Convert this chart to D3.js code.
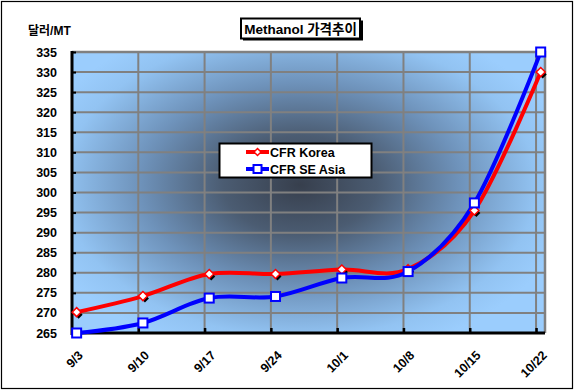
<!DOCTYPE html>
<html><head><meta charset="utf-8">
<script src="https://cdn.jsdelivr.net/npm/d3@7"></script>
<style>
html,body{margin:0;padding:0;background:#fff;}
svg{display:block;}
text{font-family:"Liberation Sans",Arial,sans-serif;font-weight:bold;fill:#000;}
</style></head>
<body>
<svg id="c" width="575" height="391"></svg>
<script>
const categories = ["9/3","9/10","9/17","9/24","10/1","10/8","10/15","10/22"];
const cfrKorea  = [270.2, 274.2, 279.7, 279.7, 280.8, 280.9, 295.5, 330];
const cfrSEAsia = [265, 267.5, 273.7, 274.1, 278.7, 280.3, 297.4, 335];
const yTicks = d3.range(265, 336, 5);
const seriesNames = ["CFR Korea", "CFR SE Asia"];

const svg = d3.select("#c");
const L = 72, R = 545, T = 52, B = 333;

svg.append("rect").attr("x",1.5).attr("y",1.5).attr("width",571).attr("height",387)
  .attr("fill","#fff").attr("stroke","#000").attr("stroke-width",1.2);

const x = d3.scaleLinear().domain([0, 7.135]).range([L, R]);
const ptOff = 0.07;
const y = d3.scaleLinear().domain([265, 335]).range([B, T]);

const defs = svg.append("defs");
const rg = defs.append("radialGradient").attr("id","bg")
  .attr("gradientUnits","userSpaceOnUse")
  .attr("cx",300).attr("cy",185).attr("r",275)
  .attr("gradientTransform","translate(300,185) scale(1,0.64) translate(-300,-185)");
rg.append("stop").attr("offset","0").attr("stop-color","#373f4d");
rg.append("stop").attr("offset","0.28").attr("stop-color","#4b5c72");
rg.append("stop").attr("offset","0.58").attr("stop-color","#6e92ba");
rg.append("stop").attr("offset","0.86").attr("stop-color","#92c3f2");
rg.append("stop").attr("offset","1").attr("stop-color","#9bcdfd");

svg.append("rect").attr("x",L).attr("y",T).attr("width",R-L).attr("height",B-T)
  .attr("fill","url(#bg)");

svg.append("g").selectAll("line").data(yTicks.slice(1)).join("line")
  .attr("x1",L).attr("x2",R).attr("y1",d=>y(d)).attr("y2",d=>y(d))
  .attr("stroke","#808080").attr("stroke-width",2);
const vg = d3.range(1, 8);
svg.append("g").selectAll("line").data(vg).join("line")
  .attr("x1",d=>x(d)).attr("x2",d=>x(d)).attr("y1",T).attr("y2",B)
  .attr("stroke","#808080").attr("stroke-width",2);
svg.append("path").attr("d",`M${L},${T}H${R}V${B}`).attr("fill","none")
  .attr("stroke","#808080").attr("stroke-width",2.5);

const yAxis = d3.axisLeft(y).tickValues(yTicks).tickSize(-4).tickPadding(15).tickFormat(d3.format("d"));
const gy = svg.append("g").attr("transform",`translate(${L},0)`).call(yAxis);
gy.select(".domain").remove();
gy.selectAll(".tick line").attr("stroke","#000").attr("stroke-width",2);
gy.selectAll(".tick text").attr("font-size",12.5).attr("font-family","Liberation Sans, Arial, sans-serif").attr("font-weight","bold");

const xAxis = d3.axisBottom(x).tickValues(vg).tickSize(-5).tickFormat("");
const gx = svg.append("g").attr("transform",`translate(0,${B})`).call(xAxis);
gx.select(".domain").remove();
gx.selectAll(".tick line").attr("stroke","#000").attr("stroke-width",2.5);

svg.append("line").attr("x1",L).attr("x2",L).attr("y1",T-1).attr("y2",B+2)
  .attr("stroke","#000").attr("stroke-width",3);
svg.append("line").attr("x1",L-1).attr("x2",R).attr("y1",B).attr("y2",B)
  .attr("stroke","#000").attr("stroke-width",3);

svg.append("g").selectAll("text").data(categories).join("text")
  .attr("transform",(d,i)=>`translate(${x(i+ptOff)+4},${B+20}) rotate(-45)`)
  .attr("text-anchor","end").attr("dy","0.35em").attr("font-size",12.5).text(d=>d);

const line = d3.line().x((d,i)=>x(i+ptOff)).y(d=>y(d)).curve(d3.curveCardinal.tension(0));
svg.append("path").datum(cfrKorea).attr("d",line).attr("fill","none")
  .attr("stroke","#ff0000").attr("stroke-width",4).attr("stroke-linejoin","round");
svg.append("path").datum(cfrSEAsia).attr("d",line).attr("fill","none")
  .attr("stroke","#0000ff").attr("stroke-width",4).attr("stroke-linejoin","round");

const diamond = (cx,cy,s)=>`M${cx},${cy-s}L${cx+s},${cy}L${cx},${cy+s}L${cx-s},${cy}Z`;
svg.append("g").selectAll("path").data(cfrKorea).join("path")
  .attr("d",(d,i)=>diamond(x(i+ptOff)+2,y(d)+2.5,4)).attr("fill","#000");
svg.append("g").selectAll("path").data(cfrKorea).join("path")
  .attr("d",(d,i)=>diamond(x(i+ptOff),y(d),4.5)).attr("fill","#fff")
  .attr("stroke","#ff0000").attr("stroke-width",1.5);
svg.append("g").selectAll("rect").data(cfrSEAsia).join("rect")
  .attr("x",(d,i)=>x(i+ptOff)-4.5).attr("y",d=>y(d)-4.5).attr("width",9).attr("height",9)
  .attr("fill","#fff").attr("stroke","#0000ff").attr("stroke-width",2);

const lg = svg.append("g");
lg.append("rect").attr("x",219.5).attr("y",143.5).attr("width",152).attr("height",34)
  .attr("fill","#fff").attr("stroke","#000").attr("stroke-width",2);
const items = [{name:seriesNames[0],c:"#ff0000",m:"d",yy:152},{name:seriesNames[1],c:"#0000ff",m:"s",yy:169}];
items.forEach(it=>{
  lg.append("line").attr("x1",246).attr("x2",269).attr("y1",it.yy).attr("y2",it.yy)
    .attr("stroke",it.c).attr("stroke-width",4);
  if(it.m==="d"){
    lg.append("path").attr("d",diamond(257.5,it.yy,3.5)).attr("fill","#fff").attr("stroke",it.c).attr("stroke-width",1.5);
  } else {
    lg.append("rect").attr("x",253.5).attr("y",it.yy-4).attr("width",8).attr("height",8)
      .attr("fill","#fff").attr("stroke",it.c).attr("stroke-width",2);
  }
  lg.append("text").attr("x",270).attr("y",it.yy).attr("dy","0.36em").attr("font-size",12.5).text(it.name);
});

svg.append("rect").attr("x",243).attr("y",20.5).attr("width",120).attr("height",20).attr("fill","#000");
svg.append("rect").attr("x",241).attr("y",18.5).attr("width",119).attr("height",20)
  .attr("fill","#fff").attr("stroke","#000").attr("stroke-width",2);
svg.append("text").attr("x",300.5).attr("y",29).attr("dy","0.36em").attr("text-anchor","middle")
  .attr("font-size",13.5).style("font-family","'Liberation Sans','Noto Sans CJK KR',sans-serif").text("Methanol 가격추이");

svg.append("text").attr("x",28).attr("y",31).attr("dy","0.36em").attr("font-size",12)
  .style("font-family","'Liberation Sans','Noto Sans CJK KR',sans-serif").text("달러/MT");
</script>
</body></html>
